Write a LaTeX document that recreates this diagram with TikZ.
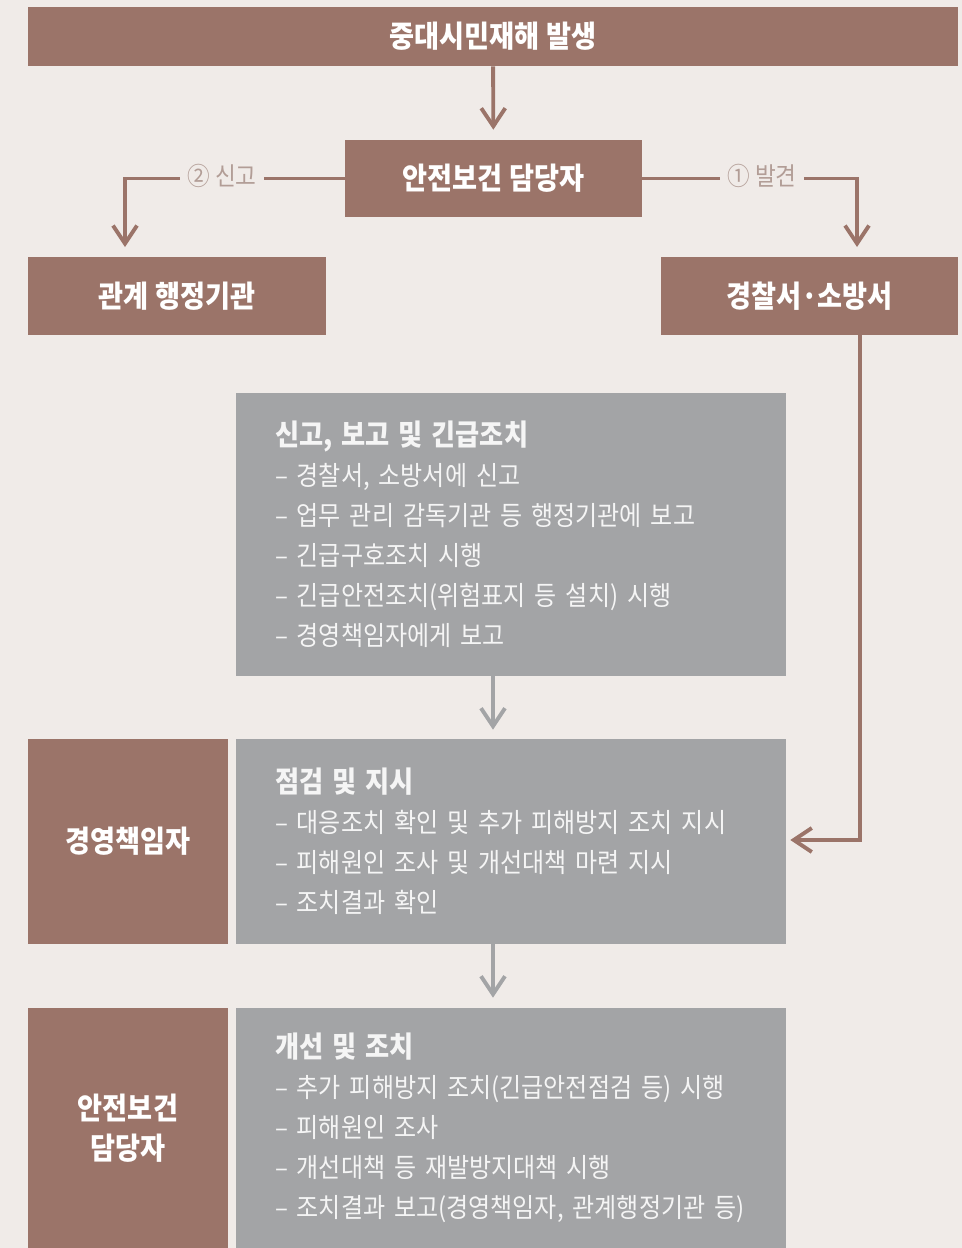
\documentclass[tikz,border=0pt]{standalone}
\usepackage{fontspec}
\usepackage{tikz}
\usetikzlibrary{arrows.meta,positioning,calc}
\newfontfamily\kr[FakeStretch=0.9]{Noto Sans CJK KR}
\definecolor{PageBg}{HTML}{F0EBE8}
\definecolor{Brick}{HTML}{9B7469}
\definecolor{StepGray}{HTML}{A3A4A6}
\definecolor{LabelTone}{HTML}{B29D96}
\tikzset{
  headbox/.style={fill=Brick,text=white,inner sep=0pt,align=center,
    font=\kr\bfseries\fontsize{17.2}{20}\selectfont},
  stepbox/.style={fill=StepGray,text=white!96!black,inner xsep=0.78cm,inner ysep=0pt,
    minimum width=11cm,text width=9.44cm,align=left,
    font=\kr\fontsize{15.2}{22.8}\selectfont},
  rolebox/.style={fill=Brick,text=white,inner sep=0pt,minimum width=4cm,align=center,
    font=\kr\bfseries\fontsize{17.2}{22.8}\selectfont},
  brickarrow/.style={-{Straight Barb[length=3.6mm,width=4.8mm,line width=2.2pt]},
    line width=2.2pt,draw=Brick},
  grayarrow/.style={-{Straight Barb[length=3.6mm,width=4.8mm,line width=2.2pt]},
    line width=2.2pt,draw=StepGray},
  tag/.style={fill=PageBg,text=LabelTone,inner xsep=4pt,
    font=\kr\fontsize{14.3}{16}\selectfont},
}
\newcommand{\steptitle}[1]{{\bfseries\fontsize{16.6}{22.8}\selectfont #1}}

\begin{document}
\begin{tikzpicture}[x=0.02cm,y=-0.02cm]
\fill[PageBg] (0,0) rectangle (962,1248);
\useasboundingbox (0,0) rectangle (962,1248);

% top row
\node[headbox,minimum width=18.6cm,minimum height=1.18cm] (event) at (493,36.5) {중대시민재해 발생};
\node[headbox,minimum width=5.94cm,minimum height=1.54cm] (officer) at (493.5,178.5) {안전보건 담당자};
\node[headbox,minimum width=5.96cm,minimum height=1.56cm] (admin) at (177,296) {관계 행정기관};
\node[headbox,minimum width=5.94cm,minimum height=1.56cm] (police) at (809.5,296) {경찰서·소방서};

% steps
\node[stepbox,minimum height=5.66cm] (report) at (511,534.5) {\steptitle{신고, 보고 및 긴급조치}\\
– 경찰서, 소방서에 신고\\
– 업무 관리 감독기관 등 행정기관에 보고\\
– 긴급구호조치 시행\\
– 긴급안전조치(위험표지 등 설치) 시행\\
– 경영책임자에게 보고};
\node[stepbox,minimum height=4.1cm] (check) at (511,841.5) {\steptitle{점검 및 지시}\\
– 대응조치 확인 및 추가 피해방지 조치 지시\\
– 피해원인 조사 및 개선대책 마련 지시\\
– 조치결과 확인};
\node[stepbox,minimum height=4.8cm] (improve) at (511,1128) {\steptitle{개선 및 조치}\\
– 추가 피해방지 조치(긴급안전점검 등) 시행\\
– 피해원인 조사\\
– 개선대책 등 재발방지대책 시행\\
– 조치결과 보고(경영책임자, 관계행정기관 등)};
\node[rolebox,minimum height=4.1cm] (ceo) at (128,841.5) {경영책임자};
\node[rolebox,minimum height=4.8cm] (manager) at (128,1128) {안전보건\\담당자};

% connectors
\coordinate (admintop) at (125,257);
\coordinate (policetop) at (857,257);
\coordinate (policeout) at (860,335);
\coordinate (turn) at (860,840);
\draw[brickarrow,shorten >=0.2cm] (event) -- (officer);
\draw[brickarrow,shorten >=0.2cm] (officer.west) -| (admintop);
\draw[brickarrow,shorten >=0.2cm] (officer.east) -| (policetop);
\draw[brickarrow,shorten >=0.08cm] (policeout) -- (turn) -- (turn -| check.east);
\draw[grayarrow,shorten >=0.18cm] ([xshift=-0.36cm]report.south) -- ([xshift=-0.36cm]check.north);
\draw[grayarrow,shorten >=0.2cm] ([xshift=-0.36cm]check.south) -- ([xshift=-0.36cm]improve.north);
\node[tag] (reportlbl) at (222,176) {② 신고};
\node[tag] (findlbl) at (762,176) {① 발견};
\end{tikzpicture}
\end{document}
